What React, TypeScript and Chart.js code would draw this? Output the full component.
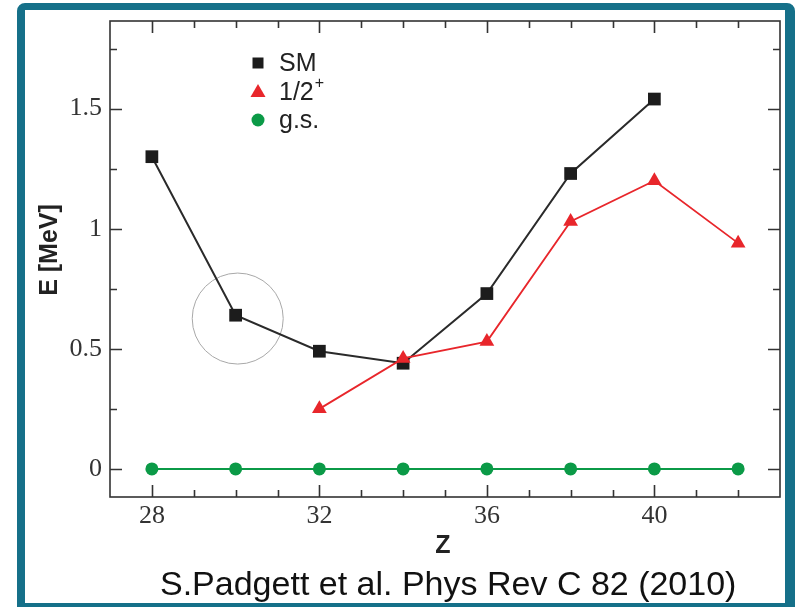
import React, { useEffect, useRef } from "react";
import { Chart, registerables } from "chart.js";

Chart.register(...registerables);

// ---- data ----
const zSM = [28, 30, 32, 34, 36, 38, 40];
const eSM = [1.3, 0.64, 0.49, 0.44, 0.73, 1.23, 1.54];
const zHalf = [32, 34, 36, 38, 40, 42];
const eHalf = [0.25, 0.46, 0.53, 1.03, 1.2, 0.94];
const zGS = [28, 30, 32, 34, 36, 38, 40, 42];
const eGS = [0, 0, 0, 0, 0, 0, 0, 0];
const seriesNames = ["SM", "1/2+", "g.s."];
const xMajorTicks = [28, 32, 36, 40];
const xMinorTicks = [29, 30, 31, 33, 34, 35, 37, 38, 39, 41, 42];
const yMajorTicks = [0, 0.5, 1, 1.5];
const yTickLabels = ["0", "0.5", "1", "1.5"];
const yMinorTicks = [0.25, 0.75, 1.25, 1.75];
const circleMarkZ = [30.05];
const circleMarkE = [0.626];
const xTitle = "Z";
const yTitle = "E [MeV]";
const citation = "S.Padgett et al. Phys Rev C 82 (2010)";

const BLACK = "#1c1c1c";
const RED = "#e8262b";
const GREEN = "#0b9a47";
const SANS = "'Liberation Sans', Arial, sans-serif";
const SERIF = "'Liberation Serif', 'Times New Roman', serif";

const toPts = (xs: number[], ys: number[]) => xs.map((x, i) => ({ x, y: ys[i] }));

const boxTicksPlugin = {
  id: "boxTicks",
  afterDraw(chart: any) {
    const { ctx, chartArea: a, scales } = chart;
    const xs = scales.x;
    const ys = scales.y;
    ctx.save();
    ctx.strokeStyle = "#333";
    ctx.lineWidth = 1.6;
    ctx.strokeRect(a.left, a.top, a.right - a.left, a.bottom - a.top);
    ctx.beginPath();
    const xt = (v: number, len: number) => {
      const p = Math.round(xs.getPixelForValue(v)) + 0.5;
      ctx.moveTo(p, a.bottom);
      ctx.lineTo(p, a.bottom - len);
      ctx.moveTo(p, a.top);
      ctx.lineTo(p, a.top + len);
    };
    const yt = (v: number, len: number) => {
      const p = Math.round(ys.getPixelForValue(v)) + 0.5;
      ctx.moveTo(a.left, p);
      ctx.lineTo(a.left + len, p);
      ctx.moveTo(a.right, p);
      ctx.lineTo(a.right - len, p);
    };
    xMajorTicks.forEach((v) => xt(v, 12));
    xMinorTicks.forEach((v) => xt(v, 7));
    yMajorTicks.forEach((v) => yt(v, 12));
    yMinorTicks.forEach((v) => yt(v, 7));
    ctx.stroke();

    // axis titles
    ctx.fillStyle = "#222";
    ctx.font = `bold 25px ${SANS}`;
    ctx.textAlign = "center";
    ctx.textBaseline = "middle";
    ctx.fillText(xTitle, (a.left + a.right) / 2 - 2, 546);
    ctx.save();
    ctx.translate(50, 250);
    ctx.rotate(-Math.PI / 2);
    ctx.fillText(yTitle, 0, 0);
    ctx.restore();

    // legend
    const colors = [BLACK, RED, GREEN];
    const shapes = ["rect", "triangle", "circle"];
    const mx = a.left + 148;
    seriesNames.forEach((name, i) => {
      const my = a.top + 42 + i * 28.5;
      ctx.fillStyle = colors[i];
      ctx.beginPath();
      if (shapes[i] === "rect") {
        ctx.rect(mx - 5.5, my - 5.5, 11, 11);
      } else if (shapes[i] === "triangle") {
        ctx.moveTo(mx, my - 7.5);
        ctx.lineTo(mx + 7.5, my + 5.5);
        ctx.lineTo(mx - 7.5, my + 5.5);
        ctx.closePath();
      } else {
        ctx.arc(mx, my, 6.5, 0, Math.PI * 2);
      }
      ctx.fill();
      ctx.fillStyle = "#222";
      ctx.font = `25px ${SANS}`;
      ctx.textAlign = "left";
      ctx.textBaseline = "alphabetic";
      const base = my + 8;
      let label = name;
      let sup = "";
      if (name.endsWith("+")) {
        label = name.slice(0, -1);
        sup = "+";
      }
      ctx.fillText(label, mx + 21, base);
      if (sup) {
        const w = ctx.measureText(label).width;
        ctx.font = `16px ${SANS}`;
        ctx.fillText(sup, mx + 21 + w + 1, base - 12);
      }
    });
    ctx.restore();
  },
};

export default function App() {
  const ref = useRef<HTMLCanvasElement>(null);
  useEffect(() => {
    if (!ref.current) return;
    const chart = new Chart(ref.current, {
      type: "line",
      data: {
        datasets: [
          {
            label: "circle",
            data: toPts(circleMarkZ, circleMarkE),
            showLine: false,
            pointStyle: "circle",
            pointRadius: 45.5,
            pointBackgroundColor: "rgba(0,0,0,0)",
            pointBorderColor: "#a8a8a8",
            pointBorderWidth: 1,
            order: 4,
          } as any,
          {
            label: seriesNames[0],
            data: toPts(zSM, eSM),
            borderColor: "#2a2a2a",
            borderWidth: 2,
            pointStyle: "rect",
            pointRadius: 9,
            pointBackgroundColor: BLACK,
            pointBorderColor: BLACK,
            pointBorderWidth: 0,
            order: 3,
          },
          {
            label: seriesNames[1],
            data: toPts(zHalf, eHalf),
            borderColor: RED,
            borderWidth: 1.8,
            pointStyle: "triangle",
            pointRadius: 8.5,
            pointBackgroundColor: RED,
            pointBorderColor: RED,
            pointBorderWidth: 0,
            order: 2,
          },
          {
            label: seriesNames[2],
            data: toPts(zGS, eGS),
            borderColor: GREEN,
            borderWidth: 2,
            pointStyle: "circle",
            pointRadius: 6.5,
            pointBackgroundColor: GREEN,
            pointBorderColor: GREEN,
            pointBorderWidth: 0,
            order: 1,
          },
        ],
      },
      options: {
        animation: false,
        responsive: false,
        devicePixelRatio: 1,
        layout: { autoPadding: false, padding: { top: 21, right: 15, left: 0, bottom: 0 } },
        elements: { line: { tension: 0 } },
        plugins: { legend: { display: false }, tooltip: { enabled: false } },
        scales: {
          x: {
            type: "linear",
            min: 27,
            max: 43,
            grid: { display: false },
            border: { display: false },
            afterBuildTicks: (s: any) => {
              s.ticks = xMajorTicks.map((v) => ({ value: v }));
            },
            afterFit: (s: any) => {
              s.height = 110;
            },
            ticks: {
              padding: -4,
              color: "#333",
              font: { family: SERIF, size: 26 },
              callback: (v: any) => String(v),
            },
          },
          y: {
            type: "linear",
            min: -0.117,
            max: 1.865,
            grid: { display: false },
            border: { display: false },
            afterBuildTicks: (s: any) => {
              s.ticks = yMajorTicks.map((v) => ({ value: v }));
            },
            afterFit: (s: any) => {
              s.width = 110;
            },
            ticks: {
              padding: 0,
              color: "#333",
              font: { family: SERIF, size: 26 },
              callback: (v: any) => {
                const i = yMajorTicks.indexOf(Number(v));
                return i >= 0 ? yTickLabels[i] : String(v);
              },
            },
          },
        },
      },
      plugins: [boxTicksPlugin],
    });
    return () => chart.destroy();
  }, []);

  return (
    <div style={{ position: "absolute", left: 0, top: 0, width: 795, height: 607, overflow: "hidden", background: "#fff" }}>
      <canvas ref={ref} width={795} height={607} style={{ position: "absolute", left: 0, top: 0, width: 795, height: 607 }} />
      <div
        style={{
          position: "absolute",
          left: 17,
          top: 3,
          width: 778,
          height: 604,
          boxSizing: "border-box",
          borderStyle: "solid",
          borderColor: "#157089",
          borderWidth: "7px 10px 4px 8px",
          borderRadius: "8px 8px 0 0",
          pointerEvents: "none",
        }}
      />
      <div
        style={{
          position: "absolute",
          left: 160,
          top: 566,
          fontFamily: SANS,
          fontSize: 34,
          lineHeight: "34px",
          color: "#111",
          whiteSpace: "nowrap",
        }}
      >
        {citation}
      </div>
    </div>
  );
}
